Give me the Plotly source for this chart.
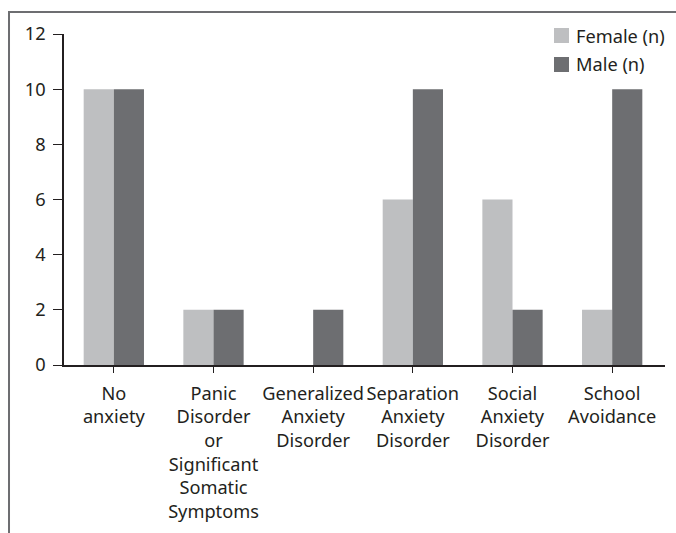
import plotly.graph_objects as go

categories = [
    "No<br>anxiety",
    "Panic<br>Disorder<br>or<br>Significant<br>Somatic<br>Symptoms",
    "Generalized<br>Anxiety<br>Disorder",
    "Separation<br>Anxiety<br>Disorder",
    "Social<br>Anxiety<br>Disorder",
    "School<br>Avoidance",
]
series_names = ["Female (n)", "Male (n)"]
female_n = [10, 2, 0, 6, 6, 2]
male_n = [10, 2, 2, 10, 2, 10]
y_ticks = [0, 2, 4, 6, 8, 10, 12]

FONT = "Noto Sans"
SIZE = 18.2
COLORS = ["#BEBFC1", "#6D6E71"]

fig = go.Figure()
fig.add_trace(go.Bar(x=categories, y=female_n, name=series_names[0], marker_color=COLORS[0], marker_line_width=0))
fig.add_trace(go.Bar(x=categories, y=male_n, name=series_names[1], marker_color=COLORS[1], marker_line_width=0))

# legend drawn as swatches + text (matches the original's layout)
shapes = [dict(type="rect", xref="paper", yref="paper", x0=-0.0915, y0=-0.7, x1=1.2, y1=1.0665,
               line=dict(color="#6D6E71", width=2), fillcolor="rgba(0,0,0,0)", layer="below")]
annotations = []
leg_rows = [(0.9728, 1.0181, 0.9940), (0.8852, 0.9305, 0.9079)]
for name, col, (y0, y1, yt) in zip(series_names, COLORS, leg_rows):
    shapes.append(dict(type="rect", xref="paper", yref="paper", x0=0.8153, x1=0.8403, y0=y0, y1=y1,
                       line=dict(width=0), fillcolor=col))
    annotations.append(dict(text=name, xref="paper", yref="paper", x=0.849, y=yt, xanchor="left",
                            yanchor="middle", showarrow=False, font=dict(family=FONT, size=SIZE, color="#231F20")))

fig.update_layout(
    width=676, height=533,
    margin=dict(l=64, r=11, t=34, b=168, autoexpand=False),
    paper_bgcolor="white", plot_bgcolor="white",
    barmode="group", bargap=0.395, bargroupgap=0,
    font=dict(family=FONT, size=SIZE, color="#231F20"),
    showlegend=False,
    xaxis=dict(range=[-0.5, 5.53], showline=True, linecolor="#231F20", linewidth=1.5,
               ticks="outside", ticklen=6, tickcolor="#231F20", showgrid=False, zeroline=False,
               tickangle=0, automargin=False, ticklabelstandoff=5),
    yaxis=dict(range=[0, 12], tickvals=y_ticks, showline=True, linecolor="#231F20", linewidth=1.5,
               ticks="outside", ticklen=9, tickcolor="#231F20", showgrid=False, zeroline=False,
               ticklabelstandoff=4, automargin=False),
    shapes=shapes,
    annotations=annotations,
)
fig.write_html("out.html", config={"displayModeBar": False},
               post_script="document.body.style.margin='0';document.body.style.overflow='hidden';")
